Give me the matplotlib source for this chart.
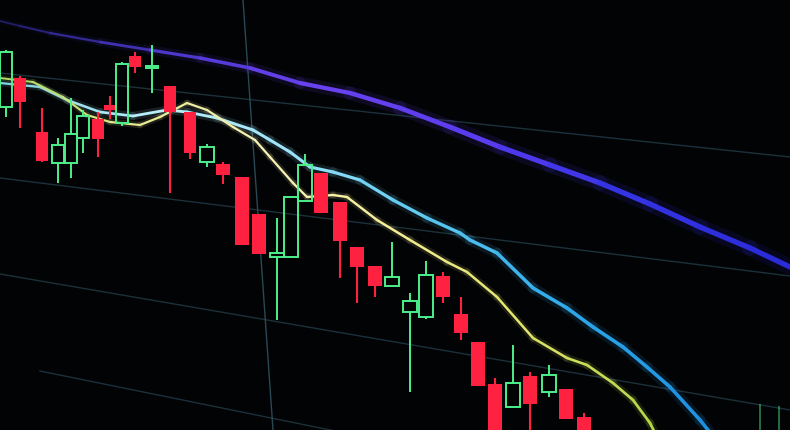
"""
Candlestick screen with three moving averages, seen at an angle.
Values are read off the photo in screen units (y grows downward).
"""

import numpy as np
import matplotlib
matplotlib.use('Agg')
import matplotlib.pyplot as plt
from matplotlib.collections import LineCollection
from matplotlib.colors import LinearSegmentedColormap

# candles: centre x, open, close, high, low (screen units, axis is inverted)
candle_x = [6, 20, 42, 58, 71, 83, 98, 110, 122, 135, 152, 170, 190, 207, 223,
            242, 259, 277, 291, 305, 321, 340, 357, 375, 392, 410, 426, 443,
            461, 478, 495, 513, 530, 549, 566, 584, 760, 779]
candle_open = [107, 78, 132, 163, 163, 138, 119, 105, 123, 56, 68, 86, 112, 162, 164,
               177, 214, 257, 257, 201, 173, 202, 247, 266, 286, 312, 317, 276,
               314, 342, 384, 407, 376, 392, 389, 417, 470, 470]
candle_close = [52, 102, 161, 145, 134, 116, 139, 110, 64, 67, 66, 112, 153, 147, 175,
                245, 254, 253, 197, 165, 213, 241, 267, 286, 277, 301, 275, 297,
                333, 386, 440, 383, 404, 375, 419, 445, 445, 445]
candle_high = [50, 76, 108, 138, 98, 110, 112, 96, 62, 52, 45, 86, 112, 144, 162,
               177, 214, 218, 196, 154, 173, 202, 247, 266, 242, 293, 261, 272,
               297, 342, 378, 345, 372, 365, 389, 413, 404, 406]
candle_low = [117, 128, 162, 183, 178, 153, 157, 119, 126, 73, 93, 193, 159, 167, 184,
              245, 254, 320, 257, 201, 213, 278, 303, 297, 286, 392, 319, 303,
              340, 386, 440, 407, 440, 397, 419, 445, 470, 470]

# moving averages
slow_x = [0, 20, 50, 100, 150, 200, 250, 300, 350, 400, 450, 500, 550, 600,
          650, 700, 750, 790]
slow_y = [21, 26, 33, 42, 50, 58, 68, 83, 93, 108, 127, 147, 165, 183,
          204, 227, 248, 267]

mid_x = [0, 20, 40, 67, 100, 133, 167, 187, 217, 253, 270, 290, 310, 333, 360,
         393, 427, 460, 470, 497, 533, 567, 593, 623, 647, 670, 700, 712]
mid_y = [83, 85, 87, 100, 112, 116, 110, 112, 118, 130, 140, 152, 167, 172, 180,
         200, 218, 233, 240, 253, 288, 308, 327, 347, 367, 387, 420, 435]

fast_x = [0, 33, 63, 87, 110, 140, 160, 187, 207, 233, 255, 270, 293, 307, 333,
          347, 377, 410, 447, 467, 497, 533, 567, 587, 613, 633, 650, 656]
fast_y = [78, 82, 97, 115, 122, 125, 117, 103, 110, 127, 140, 157, 183, 197, 195,
          197, 220, 240, 262, 272, 297, 338, 358, 365, 383, 400, 423, 435]

# screen grid (slanted by the camera angle)
grid_rows = [((0, 790), (73, 157)), ((0, 790), (178, 276)),
             ((0, 790), (274, 410)), ((40, 340), (371, 432))]
grid_cols = [((243, 273), (0, 430))]

RED = '#ff2240'
GREEN = '#4cf08c'


def gradient_line(ax, x, y, colors, widths, glow=True):
    pts = np.column_stack([x, y])
    segs = np.stack([pts[:-1], pts[1:]], axis=1)
    mids = (np.asarray(x[:-1]) + np.asarray(x[1:])) / 2
    t = (mids - min(x)) / (max(x) - min(x))
    cmap = LinearSegmentedColormap.from_list('g', colors)
    lw = np.interp(t, np.linspace(0, 1, len(widths)), widths)
    if glow:
        ax.add_collection(LineCollection(segs, colors=cmap(t), linewidths=lw * 3,
                                         alpha=0.12, capstyle='round'))
    ax.add_collection(LineCollection(segs, colors=cmap(t), linewidths=lw,
                                     capstyle='round', joinstyle='round'))


fig = plt.figure(figsize=(7.9, 4.3), dpi=100, facecolor='#020305')
ax = fig.add_axes([0, 0, 1, 1])
ax.set_facecolor('#020305')
ax.set_xlim(0, 790)
ax.set_ylim(430, 0)
ax.axis('off')

for xs, ys in grid_rows:
    ax.plot(xs, ys, color='#24404c', lw=1.0, alpha=0.75, zorder=1)
for xs, ys in grid_cols:
    ax.plot(xs, ys, color='#2f5562', lw=1.0, alpha=0.85, zorder=1)

# candles
for x, o, c, h, l in zip(candle_x, candle_open, candle_close, candle_high, candle_low):
    w = 12 + x * 0.005
    top, bot = min(o, c), max(o, c)
    alpha = 0.45 if x > 700 else 1.0
    if c > o:  # price fell (screen y grows downward)
        ax.vlines(x, h, l, color=RED, lw=1.5, alpha=alpha, zorder=3)
        ax.bar(x, bot - top, width=w, bottom=top, color=RED, alpha=alpha, zorder=4)
    else:
        ax.vlines(x, h, top, color=GREEN, lw=1.4, alpha=alpha, zorder=3)
        ax.vlines(x, bot, l, color=GREEN, lw=1.4, alpha=alpha, zorder=3)
        ax.bar(x, max(bot - top, 2), width=w, bottom=top, fill=False,
               edgecolor=GREEN, lw=1.4, alpha=alpha, zorder=4)

gradient_line(ax, slow_x, slow_y,
              ['#1c1c60', '#4a36c8', '#6a42f0', '#5a3cee', '#3434e4', '#2a2ad8'],
              [1.2, 2.2, 3.0, 3.6, 3.8, 3.8])
gradient_line(ax, mid_x, mid_y,
              ['#7ad0e0', '#b8eefa', '#9ee4fa', '#5cc8f0', '#2ea8e8', '#1c8ee0'],
              [1.6, 2.0, 2.2, 2.4, 2.6, 2.6])
gradient_line(ax, fast_x, fast_y,
              ['#a8d860', '#e8ea90', '#f8f2b8', '#f4ee98', '#e0e46a', '#b4d648'],
              [1.4, 1.6, 1.6, 1.8, 1.8, 2.0])

fig.savefig('out.png', dpi=100, facecolor=fig.get_facecolor())
